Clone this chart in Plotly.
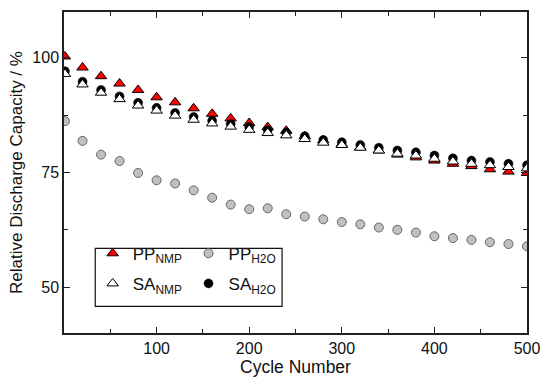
import plotly.graph_objects as go

cycles = [1, 20, 40, 60, 80, 100, 120, 140, 160, 180, 200, 220, 240,
          260, 280, 300, 320, 340, 360, 380, 400, 420, 440, 460, 480, 500]

pp_nmp = [100.3, 97.9, 96.0, 94.4, 93.0, 91.4, 90.3, 89.0, 87.8, 86.8, 85.8, 84.9, 84.1,
          82.9, 82.0, 81.2, 80.5, 79.8, 78.9, 78.3, 77.6, 76.9, 76.4, 75.7, 75.2, 74.9]
sa_nmp = [96.5, 94.2, 92.4, 91.0, 89.6, 88.5, 87.4, 86.5, 85.7, 85.0, 84.3, 83.6, 83.1,
          82.3, 81.5, 81.0, 80.4, 79.8, 79.1, 78.7, 78.0, 77.4, 76.9, 76.6, 76.2, 75.9]
sa_h2o = [97.1, 94.8, 93.0, 91.6, 90.2, 89.1, 88.0, 87.1, 86.3, 85.6, 84.9, 84.2, 83.7,
          82.9, 82.1, 81.6, 81.0, 80.4, 79.8, 79.4, 78.7, 78.1, 77.6, 77.3, 76.9, 76.6]
pp_h2o = [86.2, 81.9, 78.9, 77.5, 74.9, 73.3, 72.6, 71.1, 69.5, 68.0, 67.0, 67.2, 65.9,
          65.4, 64.8, 64.2, 63.7, 63.0, 62.5, 61.9, 61.1, 60.7, 60.3, 59.8, 59.4, 58.9]

x_ticks = [100, 200, 300, 400, 500]
y_ticks = [50, 75, 100]

FONT = "Arial, Liberation Sans, sans-serif"

fig = go.Figure()
fig.add_trace(go.Scatter(
    x=cycles, y=pp_h2o, mode="markers", name="PP<sub>H2O</sub>", legend="legend2",
    legendgroup="g_pph2o",
    marker=dict(symbol="circle", size=9, color="#c0c0c0",
                line=dict(color="#666666", width=1))))
fig.add_trace(go.Scatter(
    x=cycles, y=pp_nmp, mode="markers", name="PP<sub>NMP</sub>", legend="legend",
    legendgroup="g_ppnmp",
    marker=dict(symbol="triangle-up", size=10, color="#ff0000",
                line=dict(color="#000000", width=1))))
fig.add_trace(go.Scatter(
    x=cycles, y=sa_h2o, mode="markers", name="SA<sub>H2O</sub>", legend="legend2",
    legendgroup="g_sah2o",
    marker=dict(symbol="circle", size=9, color="#000000",
                line=dict(color="#000000", width=0.5))))
fig.add_trace(go.Scatter(
    x=cycles, y=sa_nmp, mode="markers", name="SA<sub>NMP</sub>", legend="legend",
    legendgroup="g_sanmp",
    marker=dict(symbol="triangle-up", size=10, color="#ffffff",
                line=dict(color="#000000", width=1))))

axis_common = dict(
    showline=True, linecolor="#222222", linewidth=1.5, mirror="ticks",
    ticks="inside", ticklen=6, tickwidth=1.2, tickcolor="#222222",
    showgrid=False, zeroline=False,
    tickfont=dict(family=FONT, size=16, color="#111111"),
)

fig.update_xaxes(
    range=[0, 500], tickvals=x_ticks,
    minor=dict(ticks="inside", ticklen=4, tickcolor="#222222", dtick=50, tick0=0, showgrid=False),
    title=dict(text="Cycle Number", font=dict(family=FONT, size=17.5, color="#111111"), standoff=4),
    **axis_common)
fig.update_yaxes(
    range=[40, 110], tickvals=y_ticks,
    minor=dict(ticks="inside", ticklen=4, tickcolor="#222222", dtick=12.5, tick0=50, showgrid=False),
    title=dict(text="Relative Discharge Capacity / %", font=dict(family=FONT, size=17, color="#111111"), standoff=5),
    **axis_common)

legend_common = dict(
    bgcolor="rgba(0,0,0,0)", borderwidth=0, orientation="v",
    xanchor="left", yanchor="top", itemsizing="trace",
    font=dict(family=FONT, size=17, color="#111111"),
    tracegroupgap=5,
)

fig.update_layout(
    width=550, height=386,
    margin=dict(l=63.5, r=20, t=10, b=53.3),
    paper_bgcolor="white", plot_bgcolor="white",
    font=dict(family=FONT, color="#111111"),
    legend=dict(x=0.062, y=0.303, **legend_common),
    legend2=dict(x=0.269, y=0.303, **legend_common),
    shapes=[dict(type="rect", xref="paper", yref="paper",
                 x0=0.0675, x1=0.471, y0=0.0827, y1=0.2634,
                 line=dict(color="#111111", width=1.2), fillcolor="rgba(0,0,0,0)")],
)

fig.write_html("out.html", config={"displayModeBar": False},
               post_script="document.body.style.margin='0';")
